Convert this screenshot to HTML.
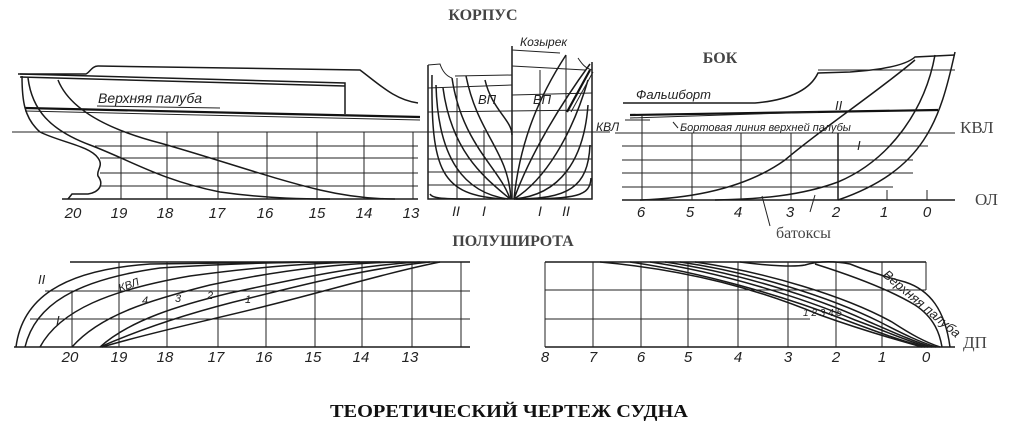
<!DOCTYPE html>
<html><head><meta charset="utf-8"><style>
html,body{margin:0;padding:0;background:#fff;}
svg{display:block}
.l{fill:none;stroke:#1a1a1a;stroke-width:1.5}
.t{fill:none;stroke:#222;stroke-width:1}
.h{fill:none;stroke:#111;stroke-width:2.2}
.it{font-family:"Liberation Sans",sans-serif;font-style:italic;fill:#222}
.sr{font-family:"Liberation Serif",serif;fill:#444}
</style></head><body>
<svg width="1024" height="431" viewBox="0 0 1024 431" xmlns="http://www.w3.org/2000/svg">
<text x="483" y="20" class="sr" font-size="16" font-weight="bold" text-anchor="middle">КОРПУС</text>
<text x="720" y="63" class="sr" font-size="16" font-weight="bold" text-anchor="middle">БОК</text>
<text x="513" y="246" class="sr" font-size="16" font-weight="bold" text-anchor="middle">ПОЛУШИРОТА</text>
<text x="509" y="417" font-family="Liberation Serif,serif" font-weight="bold" font-size="18" fill="#111" text-anchor="middle" textLength="358" lengthAdjust="spacingAndGlyphs">ТЕОРЕТИЧЕСКИЙ ЧЕРТЕЖ СУДНА</text>

<g>
<line class="t" x1="12" y1="132" x2="425" y2="132"/>
<line class="t" x1="95" y1="146" x2="418" y2="146"/>
<line class="t" x1="100" y1="158" x2="418" y2="158"/>
<line class="t" x1="100" y1="173" x2="418" y2="173"/>
<line class="t" x1="100" y1="186" x2="418" y2="186"/>
<line class="l" x1="62" y1="199" x2="418" y2="199"/>
<g class="t">
<line x1="121" y1="132" x2="121" y2="199"/><line x1="167" y1="132" x2="167" y2="199"/>
<line x1="218" y1="132" x2="218" y2="199"/><line x1="267" y1="132" x2="267" y2="199"/>
<line x1="317" y1="132" x2="317" y2="199"/><line x1="364" y1="132" x2="364" y2="199"/>
<line x1="413" y1="132" x2="413" y2="199"/>
</g>
<path class="l" d="M18,74 L86,74 C90,72 92,66 98,66 L360,70 C380,85 395,100 418,103"/>
<path class="l" d="M20,74 L345,83 L345,114"/>
<path class="l" d="M20,77 L345,86"/>
<path class="h" d="M25,108 L420,117"/>
<path class="t" d="M25,111 L420,120"/>
<path class="l" d="M22,76 C22,100 24,118 40,132 C60,142 90,146 98,158 C104,166 96,170 98,176 C104,184 100,192 88,194 L72,194 L68,199"/>
<path class="l" d="M28,78 C32,110 50,130 90,145 C130,160 160,180 220,192 C270,199 310,199 330,199"/>
<path class="l" d="M58,80 C70,110 110,130 160,143 C220,160 270,178 320,190 C350,197 375,199 395,199"/>
<text x="98" y="103" class="it" font-size="14">Верхняя палуба</text>
<line class="t" x1="97" y1="106" x2="220" y2="108"/>
<g class="it" font-size="15" text-anchor="middle">
<text x="73" y="218">20</text><text x="119" y="218">19</text><text x="165" y="218">18</text>
<text x="217" y="218">17</text><text x="265" y="218">16</text><text x="317" y="218">15</text>
<text x="364" y="218">14</text><text x="411" y="218">13</text>
</g>
</g>

<g>
<path class="l" d="M428,65 L428,199 L592,199 L592,62"/>
<line class="l" x1="512" y1="46" x2="512" y2="199"/>
<path class="t" d="M428,65 L440,64 C442,70 446,76 452,78"/>
<path class="t" d="M512,50 L560,53"/>
<path class="t" d="M578,58 C582,64 585,68 592,70"/>
<path class="t" d="M455,76 L512,75 M512,66 L585,70"/>
<line class="t" x1="428" y1="88" x2="512" y2="85"/>
<line class="t" x1="512" y1="95" x2="592" y2="93"/>
<line class="t" x1="428" y1="112" x2="592" y2="110"/>
<line class="t" x1="410" y1="132" x2="610" y2="132"/>
<line class="t" x1="428" y1="146" x2="592" y2="146"/>
<line class="t" x1="428" y1="159" x2="592" y2="159"/>
<line class="t" x1="428" y1="172" x2="592" y2="172"/>
<line class="t" x1="428" y1="185" x2="592" y2="185"/>
<line class="t" x1="457" y1="78" x2="457" y2="199"/>
<line class="t" x1="484" y1="130" x2="484" y2="199"/>
<line class="t" x1="540" y1="70" x2="540" y2="199"/>
<line class="t" x1="566" y1="55" x2="566" y2="199"/>
<g class="l">
<path d="M432,75 C431,170 440,196 505,199"/>
<path d="M436,85 C438,160 465,193 508,199"/>
<path d="M443,88 C452,155 488,180 510,199"/>
<path d="M452,78 C462,145 500,168 510,199"/>
<path d="M466,76 C478,135 508,150 511,199"/>
<path d="M485,80 C492,110 512,120 512,135"/>
<path d="M514,199 C520,140 540,95 566,55"/>
<path d="M514,199 C530,155 560,105 590,64"/>
<path d="M514,199 C545,180 572,135 588,80"/>
<path d="M514,199 C560,195 584,160 588,105"/>
<path d="M514,199 C568,199 588,188 590,145"/>
<path d="M516,199 C578,199 590,196 591,178"/>
<path d="M430,194 C432,198 440,199 470,199"/>
</g>
<path class="h" d="M567,112 L590,70"/>
<path class="t" d="M571,112 L593,72"/>
<text x="478" y="104" class="it" font-size="13">ВП</text>
<text x="533" y="104" class="it" font-size="13">ВП</text>
<text x="596" y="131" class="it" font-size="12">КВЛ</text>
<text x="520" y="46" class="it" font-size="12">Козырек</text>
<g class="it" font-size="14" text-anchor="middle">
<text x="456" y="216">II</text><text x="484" y="216">I</text>
<text x="540" y="216">I</text><text x="566" y="216">II</text>
</g>
</g>

<g>
<path class="l" d="M623,103 L755,103 C790,100 810,90 818,73 L850,72 C880,70 905,66 915,57 L955,55"/>
<path class="h" d="M630,115 L938,110"/>
<path class="t" d="M630,118 L818,112"/>
<line class="t" x1="625" y1="120" x2="650" y2="120"/>
<line class="t" x1="615" y1="133" x2="955" y2="133"/>
<line class="t" x1="622" y1="146" x2="928" y2="146"/>
<line class="t" x1="622" y1="160" x2="913" y2="160"/>
<line class="t" x1="622" y1="173" x2="913" y2="173"/>
<line class="t" x1="622" y1="187" x2="893" y2="187"/>
<line class="l" x1="622" y1="200" x2="955" y2="200"/>
<line class="t" x1="818" y1="70" x2="955" y2="70"/>
<g class="t">
<line x1="642" y1="115" x2="642" y2="200"/><line x1="692" y1="133" x2="692" y2="200"/>
<line x1="741" y1="133" x2="741" y2="200"/><line x1="791" y1="133" x2="791" y2="200"/>
<line x1="887" y1="190" x2="887" y2="200"/>
<line x1="927" y1="190" x2="927" y2="200"/>
</g>
<path class="l" d="M838,133 L838,200"/>
<path class="l" d="M955,52 C940,120 925,170 838,200"/>
<path class="l" d="M935,55 C925,110 890,160 838,182 C800,196 760,199 715,200"/>
<path class="l" d="M915,60 C880,90 820,130 785,160 C750,185 700,198 640,200"/>
<text x="636" y="99" class="it" font-size="13">Фальшборт</text>
<text x="835" y="110" class="it" font-size="13">II</text>
<text x="857" y="150" class="it" font-size="13">I</text>
<text x="680" y="131" class="it" font-size="11">Бортовая линия верхней палубы</text>
<line class="t" x1="673" y1="122" x2="678" y2="128"/>
<text x="960" y="133" class="sr" font-size="17">КВЛ</text>
<text x="975" y="205" class="sr" font-size="17">ОЛ</text>
<text x="776" y="238" class="sr" font-size="16">батоксы</text>
<line class="t" x1="762" y1="196" x2="770" y2="226"/>
<line class="t" x1="815" y1="195" x2="810" y2="212"/>
<g class="it" font-size="15" text-anchor="middle">
<text x="641" y="217">6</text><text x="690" y="217">5</text><text x="738" y="217">4</text>
<text x="790" y="217">3</text><text x="836" y="217">2</text><text x="884" y="217">1</text>
<text x="927" y="217">0</text>
</g>
</g>

<g>
<line class="l" x1="70" y1="262" x2="470" y2="262"/>
<line class="t" x1="45" y1="291" x2="470" y2="291"/>
<line class="t" x1="30" y1="319" x2="470" y2="319"/>
<line class="l" x1="14" y1="347" x2="470" y2="347"/>
<g class="t">
<line x1="72" y1="291" x2="72" y2="347"/><line x1="119" y1="262" x2="119" y2="347"/>
<line x1="167" y1="262" x2="167" y2="347"/><line x1="218" y1="262" x2="218" y2="347"/>
<line x1="266" y1="262" x2="266" y2="347"/><line x1="315" y1="262" x2="315" y2="347"/>
<line x1="362" y1="262" x2="362" y2="347"/><line x1="412" y1="262" x2="412" y2="347"/>
<line x1="461" y1="262" x2="461" y2="347"/>
</g>
<g class="l">
<path d="M16,347 C22,300 60,270 150,264 L300,262"/>
<path d="M25,347 C35,305 75,280 160,268 C250,262 320,262 360,262"/>
<path d="M40,347 C60,310 110,290 190,276 C270,265 330,262 380,262"/>
<path d="M72,347 C100,315 150,300 210,285 C280,270 340,263 400,262"/>
<path d="M100,347 C130,320 180,305 230,293 C300,278 360,265 420,262"/>
<path d="M100,347 C150,325 200,310 250,298 C310,283 370,268 430,262"/>
<path d="M102,347 C160,330 220,318 270,305 C330,290 390,272 440,262"/>
</g>
<text x="38" y="284" class="it" font-size="13">II</text>
<text x="56" y="325" class="it" font-size="13">I</text>
<line class="t" x1="45" y1="319" x2="54" y2="319"/>
<text x="120" y="292" class="it" font-size="11" transform="rotate(-20 120 292)">КВЛ</text>
<text x="142" y="304" class="it" font-size="11">4</text>
<text x="175" y="302" class="it" font-size="11">3</text>
<text x="207" y="299" class="it" font-size="11">2</text>
<text x="245" y="303" class="it" font-size="11">1</text>
<g class="it" font-size="15" text-anchor="middle">
<text x="70" y="362">20</text><text x="119" y="362">19</text><text x="165" y="362">18</text>
<text x="216" y="362">17</text><text x="264" y="362">16</text><text x="313" y="362">15</text>
<text x="361" y="362">14</text><text x="410" y="362">13</text>
</g>
</g>

<g>
<line class="l" x1="545" y1="262" x2="926" y2="262"/>
<line class="t" x1="545" y1="290" x2="926" y2="290"/>
<line class="t" x1="545" y1="319" x2="810" y2="319"/>
<line class="l" x1="545" y1="347" x2="955" y2="347"/>
<g class="t">
<line x1="545" y1="262" x2="545" y2="347"/><line x1="593" y1="262" x2="593" y2="347"/>
<line x1="641" y1="262" x2="641" y2="347"/><line x1="688" y1="262" x2="688" y2="347"/>
<line x1="738" y1="262" x2="738" y2="347"/><line x1="788" y1="262" x2="788" y2="347"/>
<line x1="836" y1="262" x2="836" y2="347"/><line x1="882" y1="262" x2="882" y2="347"/>
<line x1="926" y1="262" x2="926" y2="290"/>
</g>
<g class="l">
<path d="M740,262 C770,266 795,267 805,265 C815,262 830,260 850,264 C870,272 890,278 905,282 C930,290 945,310 950,347"/>
<path d="M815,264 C850,275 890,290 915,305 C935,318 940,335 942,347"/>
<path d="M600,262 C690,270 760,290 820,315 C870,333 905,342 922,347"/>
<path d="M630,262 C700,272 780,295 840,318 C880,333 905,342 925,347"/>
<path d="M650,262 C720,272 800,297 855,320 C890,333 910,342 928,347"/>
<path d="M665,262 C735,272 815,297 865,320 C895,333 915,342 932,347"/>
<path d="M680,262 C750,272 830,297 880,322 C905,335 920,342 936,347"/>
<path d="M695,262 C765,272 845,296 892,322 C912,335 925,342 940,347"/>
</g>
<text x="882" y="276" class="it" font-size="13" transform="rotate(40 882 276)">Верхняя палуба</text>
<text x="803" y="316" class="it" font-size="10">1 2 3 4 5</text>
<text x="963" y="348" class="sr" font-size="17">ДП</text>
<g class="it" font-size="15" text-anchor="middle">
<text x="545" y="362">8</text><text x="593" y="362">7</text><text x="641" y="362">6</text>
<text x="688" y="362">5</text><text x="738" y="362">4</text><text x="788" y="362">3</text>
<text x="836" y="362">2</text><text x="882" y="362">1</text><text x="926" y="362">0</text>
</g>
</g>
</svg>
</body></html>
